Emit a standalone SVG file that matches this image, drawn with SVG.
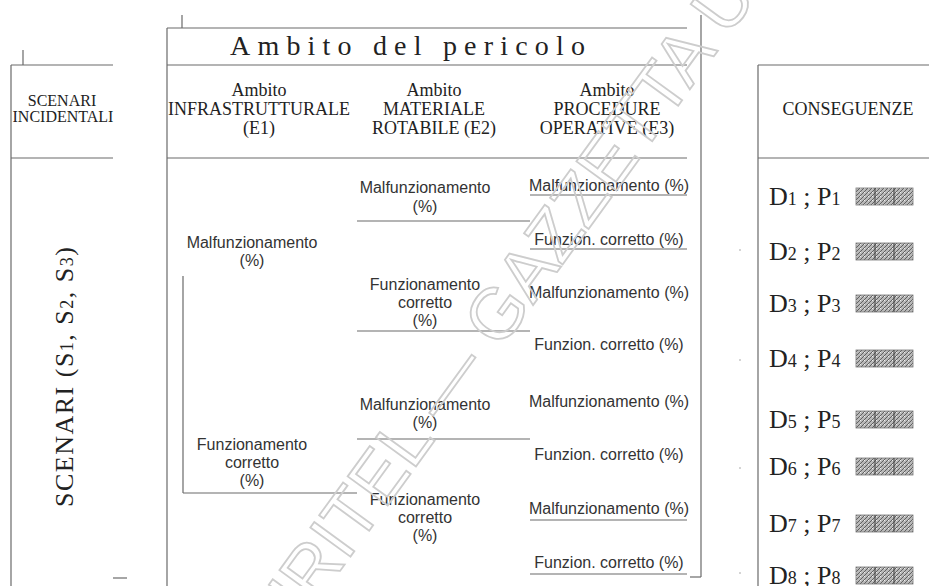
<svg xmlns="http://www.w3.org/2000/svg" width="929" height="586" viewBox="0 0 929 586">
<style>
.ln{stroke:#6a6a6a;stroke-width:1.2;fill:none}
.hd{font-family:"Liberation Serif","Times New Roman",serif;font-size:18px;fill:#222;text-anchor:middle}
.sm{font-family:"Liberation Serif","Times New Roman",serif;font-size:16px;fill:#222;text-anchor:middle}
.sn{font-family:"Liberation Sans",Arial,sans-serif;font-size:16px;fill:#333;text-anchor:middle}
.dp{font-family:"Liberation Serif","Times New Roman",serif;font-size:26px;fill:#222}
.sub{font-size:18px}
.hb{fill:url(#hatch);stroke:#777;stroke-width:0.8}
.dv{stroke:#444;stroke-width:1}
.tk{stroke:#aaa;stroke-width:1}
.wm{font-family:"Liberation Sans",Arial,sans-serif;font-size:72px;fill:none;stroke:#cdcdcd;stroke-width:1.8}
</style>
<defs>
<pattern id="hatch" width="4" height="4" patternUnits="userSpaceOnUse">
<rect width="4" height="4" fill="#b8b8b8"/>
<path d="M0 4L4 0M-1 1L1 -1M3 5L5 3" stroke="#4a4a4a" stroke-width="0.8"/>
<rect x="0" y="0" width="1" height="1" fill="#eee"/>
</pattern>
</defs>
<rect width="929" height="586" fill="#fff"/>

<g id="scenari">
<line class="ln" x1="11" y1="65" x2="11" y2="586"/>
<line class="ln" x1="23" y1="50" x2="23" y2="65"/>
<line class="ln" x1="11" y1="65" x2="113" y2="65"/>
<line class="ln" x1="11" y1="158" x2="113" y2="158"/>
<line class="ln" x1="113" y1="578" x2="127" y2="578"/>
<text class="sm" x="62" y="106">SCENARI</text>
<text class="sm" x="63" y="122">INCIDENTALI</text>
<text class="dp" transform="translate(73,507) rotate(-90)" letter-spacing="1.5">SCENARI  (S<tspan class="sub">1</tspan>, S<tspan class="sub">2</tspan>, S<tspan class="sub">3</tspan>)</text>
</g>

<g id="ambito">
<line class="ln" x1="167" y1="28" x2="167" y2="586"/>
<line class="ln" x1="182" y1="15" x2="182" y2="28"/>
<line class="ln" x1="167" y1="28" x2="687" y2="28"/>
<line class="ln" x1="167" y1="65" x2="687" y2="65"/>
<line class="ln" x1="167" y1="158" x2="687" y2="158"/>
<line class="ln" x1="701" y1="15" x2="701" y2="577"/>
<line class="ln" x1="690" y1="577" x2="701" y2="577"/>
<text x="230" y="55" textLength="355" lengthAdjust="spacing" style="font-family:'Liberation Serif','Times New Roman',serif;font-size:28px;fill:#222">Ambito del pericolo</text>
</g>

<g id="e1-header">
<text class="hd" x="259" y="96">Ambito</text>
<text class="hd" x="259" y="115">INFRASTRUTTURALE</text>
<text class="hd" x="259" y="134">(E1)</text>
</g>
<g id="e2-header">
<text class="hd" x="434" y="96">Ambito</text>
<text class="hd" x="434" y="115">MATERIALE</text>
<text class="hd" x="434" y="134">ROTABILE (E2)</text>
</g>
<g id="e3-header">
<text class="hd" x="607" y="96">Ambito</text>
<text class="hd" x="607" y="115">PROCEDURE</text>
<text class="hd" x="607" y="134">OPERATIVE (E3)</text>
</g>

<g id="connectors">
<line class="ln" x1="183" y1="276" x2="183" y2="493"/>
<line class="ln" x1="183" y1="493" x2="357" y2="493"/>
<line class="ln" x1="357" y1="221" x2="530" y2="221"/>
<line class="ln" x1="357" y1="331" x2="530" y2="331"/>
<line class="ln" x1="357" y1="439" x2="530" y2="439"/>
<line class="ln" x1="530" y1="195" x2="687" y2="195"/>
<line class="ln" x1="530" y1="249" x2="687" y2="249"/>
<line class="ln" x1="530" y1="520" x2="687" y2="520"/>
<line class="ln" x1="530" y1="574" x2="687" y2="574"/>
</g>

<g id="e1-malf"><text class="sn" x="252" y="248">Malfunzionamento</text><text class="sn" x="252" y="266">(%)</text></g>
<g id="e1-corr"><text class="sn" x="252" y="450">Funzionamento</text><text class="sn" x="252" y="468">corretto</text><text class="sn" x="252" y="486">(%)</text></g>

<g id="e2-malf-1"><text class="sn" x="425" y="193">Malfunzionamento</text><text class="sn" x="425" y="212">(%)</text></g>
<g id="e2-corr-1"><text class="sn" x="425" y="290">Funzionamento</text><text class="sn" x="425" y="308">corretto</text><text class="sn" x="425" y="326">(%)</text></g>
<g id="e2-malf-2"><text class="sn" x="425" y="410">Malfunzionamento</text><text class="sn" x="425" y="428">(%)</text></g>
<g id="e2-corr-2"><text class="sn" x="425" y="505">Funzionamento</text><text class="sn" x="425" y="523">corretto</text><text class="sn" x="425" y="541">(%)</text></g>

<g id="e3-1"><text class="sn" x="609" y="191">Malfunzionamento (%)</text></g>
<g id="e3-2"><text class="sn" x="609" y="245">Funzion. corretto (%)</text></g>
<g id="e3-3"><text class="sn" x="609" y="298">Malfunzionamento (%)</text></g>
<g id="e3-4"><text class="sn" x="609" y="350">Funzion. corretto (%)</text></g>
<g id="e3-5"><text class="sn" x="609" y="407">Malfunzionamento (%)</text></g>
<g id="e3-6"><text class="sn" x="609" y="460">Funzion. corretto (%)</text></g>
<g id="e3-7"><text class="sn" x="609" y="514">Malfunzionamento (%)</text></g>
<g id="e3-8"><text class="sn" x="609" y="568">Funzion. corretto (%)</text></g>

<g id="conseguenze">
<line class="ln" x1="758" y1="65" x2="758" y2="586"/>
<line class="ln" x1="758" y1="65" x2="929" y2="65"/>
<line class="ln" x1="758" y1="158" x2="929" y2="158"/>
<text class="hd" x="848" y="115">CONSEGUENZE</text>
<line class="tk" x1="739" y1="250" x2="741" y2="250"/>
<line class="tk" x1="739" y1="360" x2="741" y2="360"/>
<line class="tk" x1="739" y1="468" x2="741" y2="468"/>
<line class="tk" x1="739" y1="573" x2="741" y2="573"/>
</g>

<g id="d1"><text class="dp" x="769" y="205">D<tspan class="sub">1</tspan> ; P<tspan class="sub">1</tspan></text><rect class="hb" x="856" y="188" width="57" height="17"/><path class="dv" d="M875 188V205M894 188V205"/></g>
<g id="d2"><text class="dp" x="769" y="260">D<tspan class="sub">2</tspan> ; P<tspan class="sub">2</tspan></text><rect class="hb" x="856" y="243" width="57" height="17"/><path class="dv" d="M875 243V260M894 243V260"/></g>
<g id="d3"><text class="dp" x="769" y="312">D<tspan class="sub">3</tspan> ; P<tspan class="sub">3</tspan></text><rect class="hb" x="856" y="295" width="57" height="17"/><path class="dv" d="M875 295V312M894 295V312"/></g>
<g id="d4"><text class="dp" x="769" y="367">D<tspan class="sub">4</tspan> ; P<tspan class="sub">4</tspan></text><rect class="hb" x="856" y="350" width="57" height="17"/><path class="dv" d="M875 350V367M894 350V367"/></g>
<g id="d5"><text class="dp" x="769" y="428">D<tspan class="sub">5</tspan> ; P<tspan class="sub">5</tspan></text><rect class="hb" x="856" y="411" width="57" height="17"/><path class="dv" d="M875 411V428M894 411V428"/></g>
<g id="d6"><text class="dp" x="769" y="475">D<tspan class="sub">6</tspan> ; P<tspan class="sub">6</tspan></text><rect class="hb" x="856" y="458" width="57" height="17"/><path class="dv" d="M875 458V475M894 458V475"/></g>
<g id="d7"><text class="dp" x="769" y="532">D<tspan class="sub">7</tspan> ; P<tspan class="sub">7</tspan></text><rect class="hb" x="856" y="515" width="57" height="17"/><path class="dv" d="M875 515V532M894 515V532"/></g>
<g id="d8"><text class="dp" x="769" y="584">D<tspan class="sub">8</tspan> ; P<tspan class="sub">8</tspan></text><rect class="hb" x="856" y="567" width="57" height="17"/><path class="dv" d="M875 567V584M894 567V584"/></g>

<g id="watermark">
<text class="wm" x="-108" y="0" transform="translate(316,604) rotate(-54)">GURITEL — GAZZETTA UFFICIALE</text>
</g>
</svg>
